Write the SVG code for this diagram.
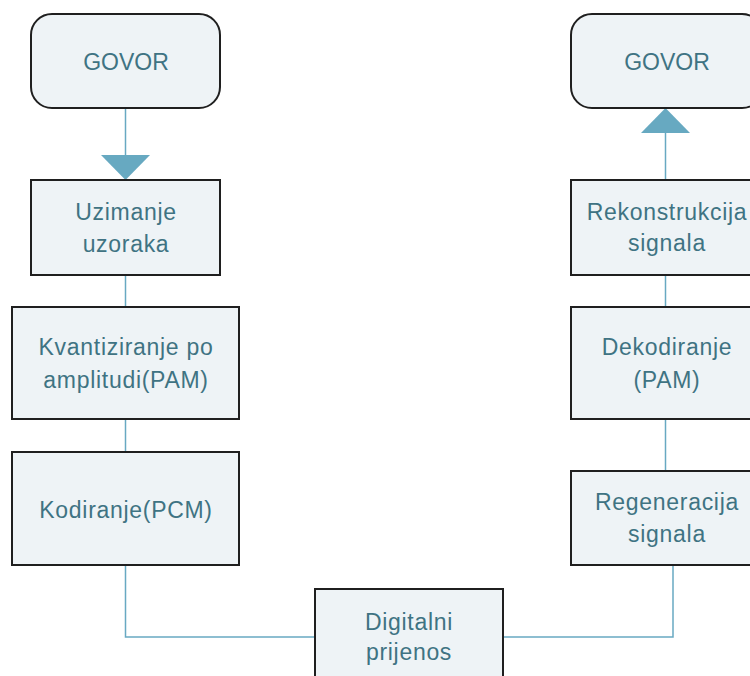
<svg xmlns="http://www.w3.org/2000/svg" width="750" height="676" viewBox="0 0 750 676">
<style>
.box{fill:#eef3f6;stroke:#1f1f1f;stroke-width:2}
.t{font-family:"Liberation Sans",Arial,sans-serif;font-size:23px;letter-spacing:0.7px;fill:#3f7383;text-anchor:middle}
.g{font-size:23px;letter-spacing:0}
.c{fill:none;stroke:#68a9c2;stroke-width:1.5}
.ah{fill:#67a9c1;stroke:none}
</style>
<rect width="750" height="676" fill="#ffffff"/>
<g id="connectors">
<path class="c" d="M125.5,108 V156"/>
<polygon class="ah" points="101,155 150,155 125.5,180"/>
<path class="c" d="M125.5,275 V307"/>
<path class="c" d="M125.5,419 V452"/>
<path class="c" d="M125.5,565 V637 H315"/>
<path class="c" d="M503,637 H673 V565"/>
<path class="c" d="M665.5,471 V419"/>
<path class="c" d="M665.5,307 V275"/>
<path class="c" d="M665.5,180 V132"/>
<polygon class="ah" points="641,133 690,133 665.5,108"/>
</g>
<g id="govor-left">
<rect class="box" x="31" y="14" width="189" height="94" rx="21" ry="21"/>
<text class="t g" x="126" y="70">GOVOR</text>
</g>
<g id="uzimanje">
<rect class="box" x="31" y="180" width="189" height="95"/>
<text class="t" x="126" y="220">Uzimanje</text>
<text class="t" x="126" y="252">uzoraka</text>
</g>
<g id="kvantiziranje">
<rect class="box" x="12" y="307" width="227" height="112"/>
<text class="t" x="126" y="355">Kvantiziranje po</text>
<text class="t" x="126" y="388">amplitudi(PAM)</text>
</g>
<g id="kodiranje">
<rect class="box" x="12" y="452" width="227" height="113"/>
<text class="t" x="126" y="518">Kodiranje(PCM)</text>
</g>
<g id="digitalni">
<rect class="box" x="315" y="589" width="188" height="100"/>
<text class="t" x="409" y="630">Digitalni</text>
<text class="t" x="409" y="660">prijenos</text>
</g>
<g id="govor-right">
<rect class="box" x="571" y="14" width="192" height="94" rx="21" ry="21"/>
<text class="t g" x="667" y="70">GOVOR</text>
</g>
<g id="rekonstrukcija">
<rect class="box" x="571" y="180" width="192" height="95"/>
<text class="t" x="667" y="220">Rekonstrukcija</text>
<text class="t" x="667" y="251">signala</text>
</g>
<g id="dekodiranje">
<rect class="box" x="571" y="307" width="192" height="112"/>
<text class="t" x="667" y="355">Dekodiranje</text>
<text class="t" x="667" y="388">(PAM)</text>
</g>
<g id="regeneracija">
<rect class="box" x="571" y="471" width="192" height="94"/>
<text class="t" x="667" y="510">Regeneracija</text>
<text class="t" x="667" y="542">signala</text>
</g>
</svg>
